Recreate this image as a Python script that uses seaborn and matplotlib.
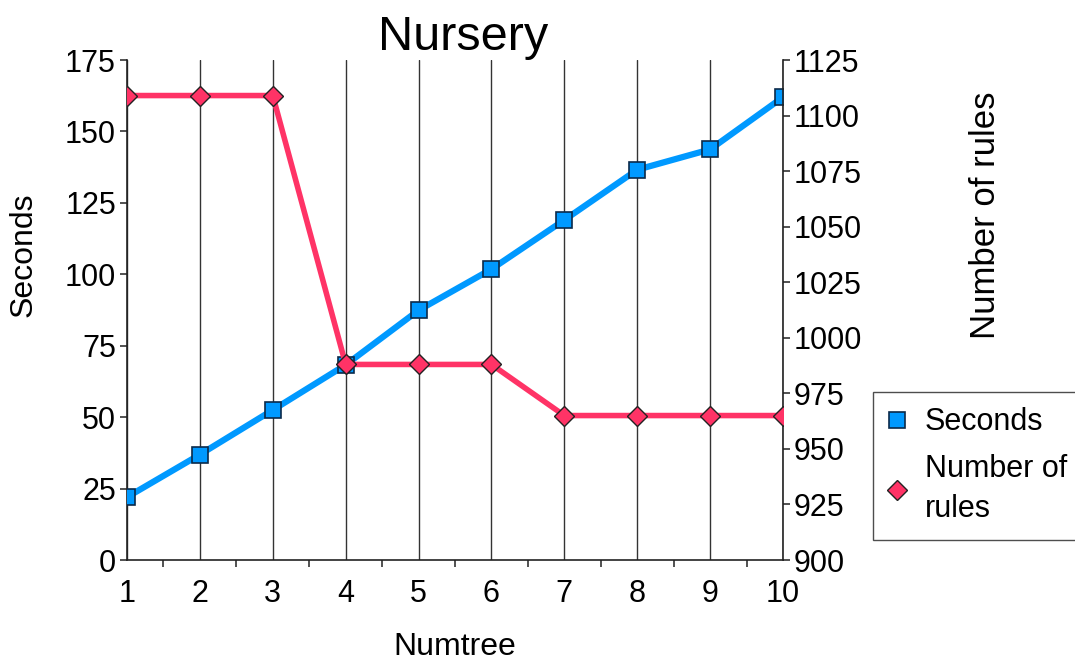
import matplotlib
matplotlib.use("Agg")
import matplotlib.pyplot as plt
from matplotlib.ticker import MultipleLocator
from matplotlib.lines import Line2D
import seaborn as sns
import pandas as pd

numtree = [1, 2, 3, 4, 5, 6, 7, 8, 9, 10]
seconds = [22.0, 36.9, 52.5, 68.3, 87.4, 101.8, 119.0, 136.6, 143.7, 162.0]
num_rules = [1109, 1109, 1109, 988, 988, 988, 965, 965, 965, 965]

left_ticks = [0, 25, 50, 75, 100, 125, 150, 175]
right_ticks = [900, 925, 950, 975, 1000, 1025, 1050, 1075, 1100, 1125]

df = pd.DataFrame({"Numtree": numtree, "Seconds": seconds, "Rules": num_rules})

sns.set_style("white")
plt.rcParams['font.family'] = ['Liberation Sans', 'DejaVu Sans']
plt.rcParams['text.color'] = 'black'
plt.rcParams['axes.labelcolor'] = 'black'
plt.rcParams['xtick.color'] = 'black'
plt.rcParams['ytick.color'] = 'black'

BLUE = "#0099FF"
PINK = "#FF3366"

fig = plt.figure(figsize=(10.75, 6.64), dpi=100)
ax = fig.add_axes([127/1075, 104/664, 656/1075, 500/664])
ax2 = ax.twinx()

ax.set_xlim(1, 10)
ax.set_xticks(numtree)
ax.xaxis.set_minor_locator(MultipleLocator(1, offset=0.5))
ax.grid(False)
for x in numtree:
    ax.axvline(x, color="#333333", lw=1.0, zorder=0)

sns.lineplot(data=df, x="Numtree", y="Seconds", ax=ax, color=BLUE, lw=4.5,
             marker="s", markersize=12, markerfacecolor=BLUE,
             markeredgecolor="#0B2A4A", markeredgewidth=1.2, zorder=3)
sns.lineplot(data=df, x="Numtree", y="Rules", ax=ax2, color=PINK, lw=4.0,
             marker="D", markersize=10, markerfacecolor=PINK,
             markeredgecolor="#222222", markeredgewidth=1.0, zorder=4)

ax.set_ylim(0, 175)
ax.set_yticks(left_ticks)
ax2.set_ylim(900, 1125)
ax2.set_yticks(right_ticks)
ax2.set_xlim(1, 10)

for a in (ax, ax2):
    for s in a.spines.values():
        s.set_visible(False)
ax.spines['left'].set_visible(True)
ax.spines['bottom'].set_visible(True)
ax2.spines['right'].set_visible(True)
for s in (ax.spines['left'], ax.spines['bottom'], ax2.spines['right']):
    s.set_color("#222222")
    s.set_linewidth(1.2)

ax.tick_params(axis='y', which='major', direction='out', length=5, width=1.1,
               color="#222222", labelcolor='black', labelsize=22, pad=3, left=True)
ax2.tick_params(axis='y', which='major', direction='out', length=5, width=1.1,
                color="#222222", labelcolor='black', labelsize=22, pad=3, right=True)
ax.tick_params(axis='x', which='major', length=0, labelsize=22, pad=14,
               labelcolor='black')
ax.tick_params(axis='x', which='minor', direction='out', length=5, width=1.1,
               color="#222222", bottom=True)

ax.set_xlabel("Numtree", fontsize=23, labelpad=16, color='black')
ax.set_ylabel("Seconds", fontsize=23, color='black')
ax2.set_ylabel("Number of rules", fontsize=25, color='black')
ax.yaxis.set_label_coords(-0.135, 0.61)
ax2.yaxis.set_label_coords(1.283, 0.69)

ax.set_title("Nursery", fontsize=35, pad=6, x=0.512, color='black')

handles = [
    Line2D([], [], ls='none', marker='s', markersize=12, markerfacecolor=BLUE,
           markeredgecolor="#0B2A4A", markeredgewidth=1.2),
    Line2D([], [], ls='none', marker='D', markersize=10, markerfacecolor=PINK,
           markeredgecolor="#222222", markeredgewidth=1.0),
]
leg = fig.legend(handles, ["Seconds", "Number of\nrules"], loc='upper left',
                 bbox_to_anchor=(873/1075, 1 - 392/664), frameon=True,
                 fancybox=False, shadow=False, fontsize=22, handlelength=0.6,
                 handletextpad=0.6, borderpad=0.5, labelspacing=0.55,
                 borderaxespad=0)
for t in leg.get_texts():
    t.set_linespacing(1.45)
    t.set_color('black')
leg.get_frame().set_edgecolor("#222222")
leg.get_frame().set_linewidth(1.0)

fig.savefig("out.png", dpi=100)
